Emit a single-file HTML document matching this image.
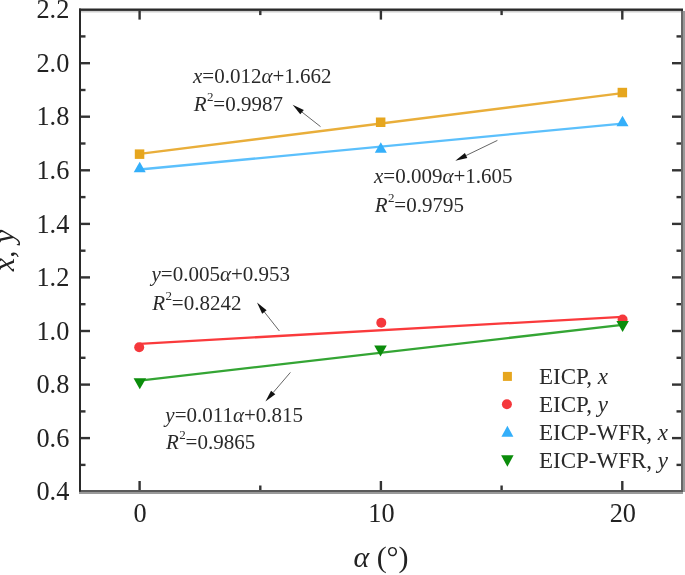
<!DOCTYPE html>
<html><head><meta charset="utf-8"><style>
html,body{margin:0;padding:0;background:#fff;}
body{width:685px;height:575px;overflow:hidden;}
svg{display:block;filter:blur(0.5px);}
</style></head><body>
<svg width="685" height="575" viewBox="0 0 685 575">
<rect width="685" height="575" fill="#fff"/>
<line x1="139.6" y1="153.9" x2="622.3" y2="93.1" stroke="#E9AE3A" stroke-width="2.3"/>
<line x1="139.6" y1="169.5" x2="622.3" y2="123.6" stroke="#5CC0FC" stroke-width="2.3"/>
<line x1="139.6" y1="343.8" x2="622.3" y2="316.8" stroke="#FA3A3C" stroke-width="2.3"/>
<line x1="139.6" y1="380.6" x2="622.3" y2="324.8" stroke="#34A534" stroke-width="2.3"/>
<rect x="134.8" y="149.4" width="9.5" height="9.5" fill="#E6A61E"/>
<rect x="375.9" y="117.5" width="9.5" height="9.5" fill="#E6A61E"/>
<rect x="617.6" y="87.8" width="9.5" height="9.5" fill="#E6A61E"/>
<circle cx="139.2" cy="347.2" r="5" fill="#F5383C"/>
<circle cx="381.3" cy="322.7" r="5" fill="#F5383C"/>
<circle cx="622.6" cy="319.5" r="5" fill="#F5383C"/>
<polygon points="133.7,172.2 145.7,172.2 139.7,161.8" fill="#34AFFA"/>
<polygon points="374.8,152.8 386.8,152.8 380.8,142.2" fill="#34AFFA"/>
<polygon points="616.5,126.2 628.5,126.2 622.5,115.8" fill="#34AFFA"/>
<polygon points="133.6,378.2 146.1,378.2 139.8,389.2" fill="#0B8C0B"/>
<polygon points="374.2,345.5 386.8,345.5 380.5,356.5" fill="#0B8C0B"/>
<polygon points="616.4,321.1 628.9,321.1 622.6,332.1" fill="#0B8C0B"/>
<rect x="681" y="9" width="2" height="483" fill="#686868"/>
<rect x="683" y="11" width="2" height="481" fill="#999"/>
<rect x="79" y="492" width="604" height="2" fill="#9a9a9a"/>
<rect x="79" y="490" width="604" height="2" fill="#5a5a5a"/>
<rect x="79" y="10.9" width="602" height="1.6" fill="#cfcfcf"/>
<rect x="79" y="8.5" width="604" height="2.4" fill="#2a2a2a"/>
<rect x="79" y="8.6" width="2" height="483" fill="#2a2a2a"/>
<line x1="81" y1="464.9" x2="85.5" y2="464.9" stroke="#333" stroke-width="2.4"/>
<line x1="681" y1="464.9" x2="676.5" y2="464.9" stroke="#333" stroke-width="2.4"/>
<line x1="81" y1="438.1" x2="90" y2="438.1" stroke="#333" stroke-width="2.4"/>
<line x1="681" y1="438.1" x2="672" y2="438.1" stroke="#333" stroke-width="2.4"/>
<line x1="81" y1="411.4" x2="85.5" y2="411.4" stroke="#333" stroke-width="2.4"/>
<line x1="681" y1="411.4" x2="676.5" y2="411.4" stroke="#333" stroke-width="2.4"/>
<line x1="81" y1="384.6" x2="90" y2="384.6" stroke="#333" stroke-width="2.4"/>
<line x1="681" y1="384.6" x2="672" y2="384.6" stroke="#333" stroke-width="2.4"/>
<line x1="81" y1="357.8" x2="85.5" y2="357.8" stroke="#333" stroke-width="2.4"/>
<line x1="681" y1="357.8" x2="676.5" y2="357.8" stroke="#333" stroke-width="2.4"/>
<line x1="81" y1="331.0" x2="90" y2="331.0" stroke="#333" stroke-width="2.4"/>
<line x1="681" y1="331.0" x2="672" y2="331.0" stroke="#333" stroke-width="2.4"/>
<line x1="81" y1="304.2" x2="85.5" y2="304.2" stroke="#333" stroke-width="2.4"/>
<line x1="681" y1="304.2" x2="676.5" y2="304.2" stroke="#333" stroke-width="2.4"/>
<line x1="81" y1="277.4" x2="90" y2="277.4" stroke="#333" stroke-width="2.4"/>
<line x1="681" y1="277.4" x2="672" y2="277.4" stroke="#333" stroke-width="2.4"/>
<line x1="81" y1="250.7" x2="85.5" y2="250.7" stroke="#333" stroke-width="2.4"/>
<line x1="681" y1="250.7" x2="676.5" y2="250.7" stroke="#333" stroke-width="2.4"/>
<line x1="81" y1="223.9" x2="90" y2="223.9" stroke="#333" stroke-width="2.4"/>
<line x1="681" y1="223.9" x2="672" y2="223.9" stroke="#333" stroke-width="2.4"/>
<line x1="81" y1="197.1" x2="85.5" y2="197.1" stroke="#333" stroke-width="2.4"/>
<line x1="681" y1="197.1" x2="676.5" y2="197.1" stroke="#333" stroke-width="2.4"/>
<line x1="81" y1="170.3" x2="90" y2="170.3" stroke="#333" stroke-width="2.4"/>
<line x1="681" y1="170.3" x2="672" y2="170.3" stroke="#333" stroke-width="2.4"/>
<line x1="81" y1="143.5" x2="85.5" y2="143.5" stroke="#333" stroke-width="2.4"/>
<line x1="681" y1="143.5" x2="676.5" y2="143.5" stroke="#333" stroke-width="2.4"/>
<line x1="81" y1="116.7" x2="90" y2="116.7" stroke="#333" stroke-width="2.4"/>
<line x1="681" y1="116.7" x2="672" y2="116.7" stroke="#333" stroke-width="2.4"/>
<line x1="81" y1="90.0" x2="85.5" y2="90.0" stroke="#333" stroke-width="2.4"/>
<line x1="681" y1="90.0" x2="676.5" y2="90.0" stroke="#333" stroke-width="2.4"/>
<line x1="81" y1="63.2" x2="90" y2="63.2" stroke="#333" stroke-width="2.4"/>
<line x1="681" y1="63.2" x2="672" y2="63.2" stroke="#333" stroke-width="2.4"/>
<line x1="81" y1="36.4" x2="85.5" y2="36.4" stroke="#333" stroke-width="2.4"/>
<line x1="681" y1="36.4" x2="676.5" y2="36.4" stroke="#333" stroke-width="2.4"/>
<line x1="139.6" y1="10.6" x2="139.6" y2="19.6" stroke="#333" stroke-width="2.4"/>
<line x1="139.6" y1="490" x2="139.6" y2="481" stroke="#333" stroke-width="2.4"/>
<line x1="260.3" y1="10.6" x2="260.3" y2="15.1" stroke="#333" stroke-width="2.4"/>
<line x1="260.3" y1="490" x2="260.3" y2="485.5" stroke="#333" stroke-width="2.4"/>
<line x1="380.9" y1="10.6" x2="380.9" y2="19.6" stroke="#333" stroke-width="2.4"/>
<line x1="380.9" y1="490" x2="380.9" y2="481" stroke="#333" stroke-width="2.4"/>
<line x1="501.6" y1="10.6" x2="501.6" y2="15.1" stroke="#333" stroke-width="2.4"/>
<line x1="501.6" y1="490" x2="501.6" y2="485.5" stroke="#333" stroke-width="2.4"/>
<line x1="622.3" y1="10.6" x2="622.3" y2="19.6" stroke="#333" stroke-width="2.4"/>
<line x1="622.3" y1="490" x2="622.3" y2="481" stroke="#333" stroke-width="2.4"/>
<text x="69.3" y="500.3" text-anchor="end" font-family="Liberation Serif" font-size="26.3" fill="#222">0.4</text>
<text x="69.3" y="446.7" text-anchor="end" font-family="Liberation Serif" font-size="26.3" fill="#222">0.6</text>
<text x="69.3" y="393.2" text-anchor="end" font-family="Liberation Serif" font-size="26.3" fill="#222">0.8</text>
<text x="69.3" y="339.6" text-anchor="end" font-family="Liberation Serif" font-size="26.3" fill="#222">1.0</text>
<text x="69.3" y="286.0" text-anchor="end" font-family="Liberation Serif" font-size="26.3" fill="#222">1.2</text>
<text x="69.3" y="232.5" text-anchor="end" font-family="Liberation Serif" font-size="26.3" fill="#222">1.4</text>
<text x="69.3" y="178.9" text-anchor="end" font-family="Liberation Serif" font-size="26.3" fill="#222">1.6</text>
<text x="69.3" y="125.3" text-anchor="end" font-family="Liberation Serif" font-size="26.3" fill="#222">1.8</text>
<text x="69.3" y="71.8" text-anchor="end" font-family="Liberation Serif" font-size="26.3" fill="#222">2.0</text>
<text x="69.3" y="18.2" text-anchor="end" font-family="Liberation Serif" font-size="26.3" fill="#222">2.2</text>
<text x="140.1" y="521.5" text-anchor="middle" font-family="Liberation Serif" font-size="26.3" fill="#222">0</text>
<text x="381.4" y="521.5" text-anchor="middle" font-family="Liberation Serif" font-size="26.3" fill="#222">10</text>
<text x="622.8" y="521.5" text-anchor="middle" font-family="Liberation Serif" font-size="26.3" fill="#222">20</text>
<text x="381" y="566.5" text-anchor="middle" font-family="Liberation Serif" font-size="30" fill="#222"><tspan font-style="italic">α</tspan> (°)</text>
<text transform="translate(13.9,250.5) rotate(-90)" text-anchor="middle" font-family="Liberation Serif" font-size="30" font-style="italic" fill="#222">x, y</text>
<text x="193" y="82.8" font-family="Liberation Serif" font-size="21" fill="#2a2a2a"><tspan font-style="italic">x</tspan>=0.012<tspan font-style="italic">α</tspan>+1.662</text><text x="193.8" y="110.8" font-family="Liberation Serif" font-size="21" fill="#2a2a2a" font-style="italic">R</text><text x="207.0" y="101.0" font-family="Liberation Serif" font-size="13" fill="#2a2a2a">2</text><text x="213.3" y="110.8" font-family="Liberation Serif" font-size="21" fill="#2a2a2a">=0.9987</text>
<text x="374" y="183.4" font-family="Liberation Serif" font-size="21" fill="#2a2a2a"><tspan font-style="italic">x</tspan>=0.009<tspan font-style="italic">α</tspan>+1.605</text><text x="374.8" y="211.6" font-family="Liberation Serif" font-size="21" fill="#2a2a2a" font-style="italic">R</text><text x="388.0" y="201.8" font-family="Liberation Serif" font-size="13" fill="#2a2a2a">2</text><text x="394.3" y="211.6" font-family="Liberation Serif" font-size="21" fill="#2a2a2a">=0.9795</text>
<text x="151.5" y="281.3" font-family="Liberation Serif" font-size="21" fill="#2a2a2a"><tspan font-style="italic">y</tspan>=0.005<tspan font-style="italic">α</tspan>+0.953</text><text x="152.3" y="309.5" font-family="Liberation Serif" font-size="21" fill="#2a2a2a" font-style="italic">R</text><text x="165.5" y="299.7" font-family="Liberation Serif" font-size="13" fill="#2a2a2a">2</text><text x="171.8" y="309.5" font-family="Liberation Serif" font-size="21" fill="#2a2a2a">=0.8242</text>
<text x="165.3" y="421.5" font-family="Liberation Serif" font-size="21" fill="#2a2a2a"><tspan font-style="italic">y</tspan>=0.011<tspan font-style="italic">α</tspan>+0.815</text><text x="166.10000000000002" y="449.2" font-family="Liberation Serif" font-size="21" fill="#2a2a2a" font-style="italic">R</text><text x="179.3" y="439.4" font-family="Liberation Serif" font-size="13" fill="#2a2a2a">2</text><text x="185.6" y="449.2" font-family="Liberation Serif" font-size="21" fill="#2a2a2a">=0.9865</text>
<line x1="320.5" y1="126.6" x2="302.0" y2="112.1" stroke="#666" stroke-width="1"/><polygon points="292.6,104.7 303.8,109.9 300.3,114.3" fill="#111"/>
<line x1="497.4" y1="140.4" x2="466.1" y2="155.5" stroke="#666" stroke-width="1"/><polygon points="455.3,160.7 464.9,153.0 467.3,158.0" fill="#111"/>
<line x1="279.4" y1="331.0" x2="264.4" y2="312.0" stroke="#666" stroke-width="1"/><polygon points="257.0,302.6 266.6,310.3 262.2,313.8" fill="#111"/>
<line x1="290.4" y1="372.4" x2="273.2" y2="392.5" stroke="#666" stroke-width="1"/><polygon points="265.4,401.6 271.1,390.7 275.3,394.3" fill="#111"/>
<rect x="502.9" y="371.9" width="9" height="9" fill="#E6A61E"/>
<circle cx="506.9" cy="404.3" r="5" fill="#F5383C"/>
<polygon points="501.4,436.7 513.4,436.7 507.4,425.7" fill="#34AFFA"/>
<polygon points="501.1,455.2 513.6,455.2 507.4,466.8" fill="#0B8C0B"/>
<text x="539" y="384.2" font-family="Liberation Serif" font-size="23" fill="#2a2a2a">EICP, <tspan font-style="italic">x</tspan></text>
<text x="539" y="412.2" font-family="Liberation Serif" font-size="23" fill="#2a2a2a">EICP, <tspan font-style="italic">y</tspan></text>
<text x="539" y="440.3" font-family="Liberation Serif" font-size="23" fill="#2a2a2a">EICP-WFR, <tspan font-style="italic">x</tspan></text>
<text x="539" y="468.2" font-family="Liberation Serif" font-size="23" fill="#2a2a2a">EICP-WFR, <tspan font-style="italic">y</tspan></text>
</svg>
</body></html>
